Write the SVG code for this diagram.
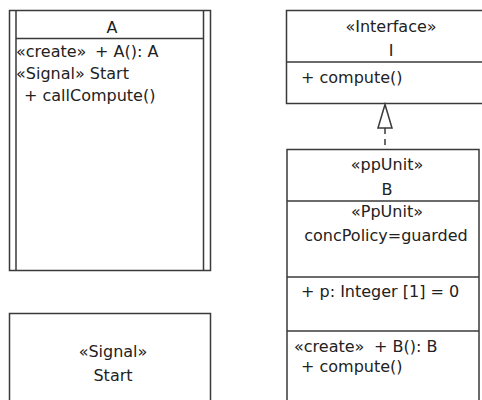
<svg xmlns="http://www.w3.org/2000/svg" width="482" height="400" viewBox="0 0 482 400">
<style>
.box{fill:#fff;stroke:#3a3a3a;stroke-width:1.5}
.ln{stroke:#3a3a3a;stroke-width:1.5;fill:none}
text{font-family:"DejaVu Sans",sans-serif;font-size:16px;fill:#222}
.c{text-anchor:middle}
</style>
<rect width="482" height="400" fill="#fff"/>
<g id="A">
<rect class="box" x="9.5" y="10.5" width="201" height="260"/>
<line class="ln" x1="16" y1="10.5" x2="16" y2="270.5"/>
<line class="ln" x1="203.5" y1="10.5" x2="203.5" y2="270.5"/>
<line class="ln" x1="16" y1="38.5" x2="203.5" y2="38.5"/>
<text class="c" x="112" y="33">A</text>
<text x="16" y="57">«create»<tspan x="95">+ A(): A</tspan></text>
<text x="16" y="79">«Signal» Start</text>
<text x="24" y="101">+ callCompute()</text>
</g>
<g id="Start">
<rect class="box" x="9.5" y="313.5" width="201" height="100"/>
<text class="c" x="113" y="357">«Signal»</text>
<text class="c" x="113" y="381">Start</text>
</g>
<g id="I">
<rect class="box" x="286.5" y="10.5" width="220" height="93"/>
<line class="ln" x1="286.5" y1="62" x2="506" y2="62"/>
<text class="c" x="391" y="32">«Interface»</text>
<text class="c" x="391" y="56">I</text>
<text x="301" y="83">+ compute()</text>
</g>
<g id="B">
<rect class="box" x="287" y="149.5" width="192" height="260"/>
<line class="ln" x1="287" y1="201" x2="479" y2="201"/>
<line class="ln" x1="287" y1="277" x2="479" y2="277"/>
<line class="ln" x1="287" y1="331" x2="479" y2="331"/>
<text class="c" x="387" y="170">«ppUnit»</text>
<text class="c" x="387" y="195">B</text>
<text class="c" x="387" y="217">«PpUnit»</text>
<text class="c" x="386" y="241">concPolicy=guarded</text>
<text x="301" y="297">+ p: Integer [1] = 0</text>
<text x="294" y="352">«create»<tspan x="374">+ B(): B</tspan></text>
<text x="301" y="372">+ compute()</text>
</g>
<g id="connectors">
<line class="ln" x1="385" y1="128" x2="385" y2="149" stroke-dasharray="6,5"/>
<polygon class="box" points="385,104.5 378,128 392,128"/>
</g>
</svg>
